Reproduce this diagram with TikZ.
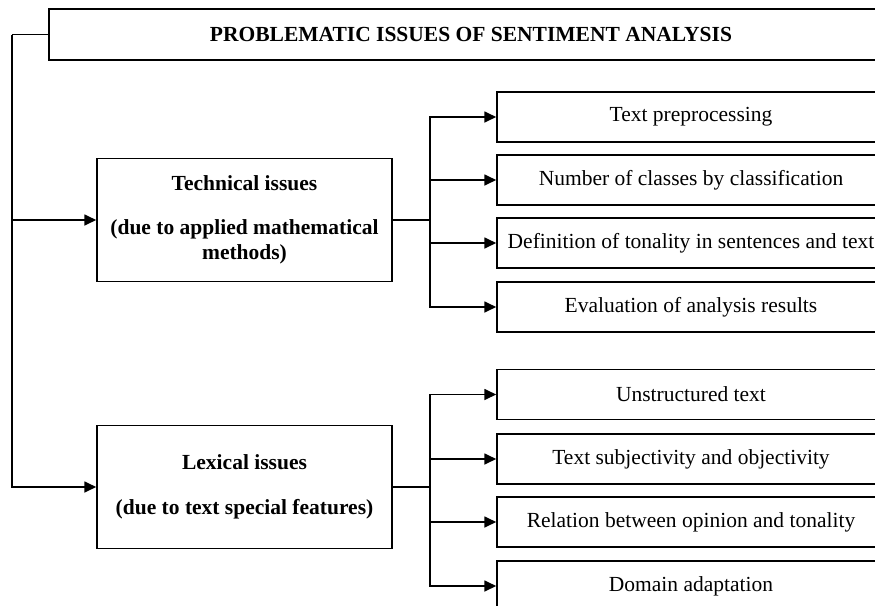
\documentclass[tikz,border=0pt]{standalone}
\usepackage{fontspec}
\setmainfont{Liberation Serif}
\usetikzlibrary{arrows.meta}

\begin{document}
\begin{tikzpicture}[x=1pt,y=-1pt,
    every node/.style={font=\fontsize{21.5}{25}\selectfont},
    headbox/.style={draw,line width=1.5pt,minimum width=844pt,minimum height=51pt,font=\fontsize{21.5}{25}\selectfont\bfseries},
    issuebox/.style={draw,line width=1.5pt,align=center,minimum width=295pt,minimum height=123pt,font=\fontsize{21.5}{25}\selectfont\bfseries},
    itembox/.style={draw,line width=1.5pt,minimum width=388pt,minimum height=50pt},
    link/.style={line width=1.7pt},
    arr/.style={-{Triangle[length=12pt,width=11pt]},line width=1.7pt}]

  \useasboundingbox (0,0) rectangle (875,605);

  \node[headbox]   (title) at (471, 34.5)   {PROBLEMATIC ISSUES OF SENTIMENT ANALYSIS};

  \node[issuebox]  (tech)  at (244.5, 220)  {Technical issues\\[19pt](due to applied mathematical\\methods)};
  \node[issuebox]  (lex)   at (244.5, 487)  {Lexical issues\\[20pt](due to text special features)};

  \node[itembox]   (t1)    at (691, 117)    {Text preprocessing};
  \node[itembox]   (t2)    at (691, 180)    {Number of classes by classification};
  \node[itembox]   (t3)    at (691, 243)    {Definition of tonality in sentences and text};
  \node[itembox]   (t4)    at (691, 307)    {Evaluation of analysis results};

  \node[itembox]   (l1)    at (691, 394.5)  {Unstructured text};
  \node[itembox]   (l2)    at (691, 459)    {Text subjectivity and objectivity};
  \node[itembox]   (l3)    at (691, 522)    {Relation between opinion and tonality};
  \node[itembox]   (l4)    at (691, 586)    {Domain adaptation};

  \coordinate (spine) at (12, 34.5);
  \coordinate (tj)    at (430, 220);
  \coordinate (lj)    at (430, 487);

  \draw[link] (title.west) -- (spine);
  \draw[arr]  (spine) |- (tech.west);
  \draw[arr]  (spine) |- (lex.west);

  \draw[link] (tech.east) -- (tj);
  \draw[arr]  (tj) |- (t1.west);
  \draw[arr]  (tj) |- (t2.west);
  \draw[arr]  (tj) |- (t3.west);
  \draw[arr]  (tj) |- (t4.west);

  \draw[link] (lex.east) -- (lj);
  \draw[arr]  (lj) |- (l1.west);
  \draw[arr]  (lj) |- (l2.west);
  \draw[arr]  (lj) |- (l3.west);
  \draw[arr]  (lj) |- (l4.west);
\end{tikzpicture}
\end{document}
